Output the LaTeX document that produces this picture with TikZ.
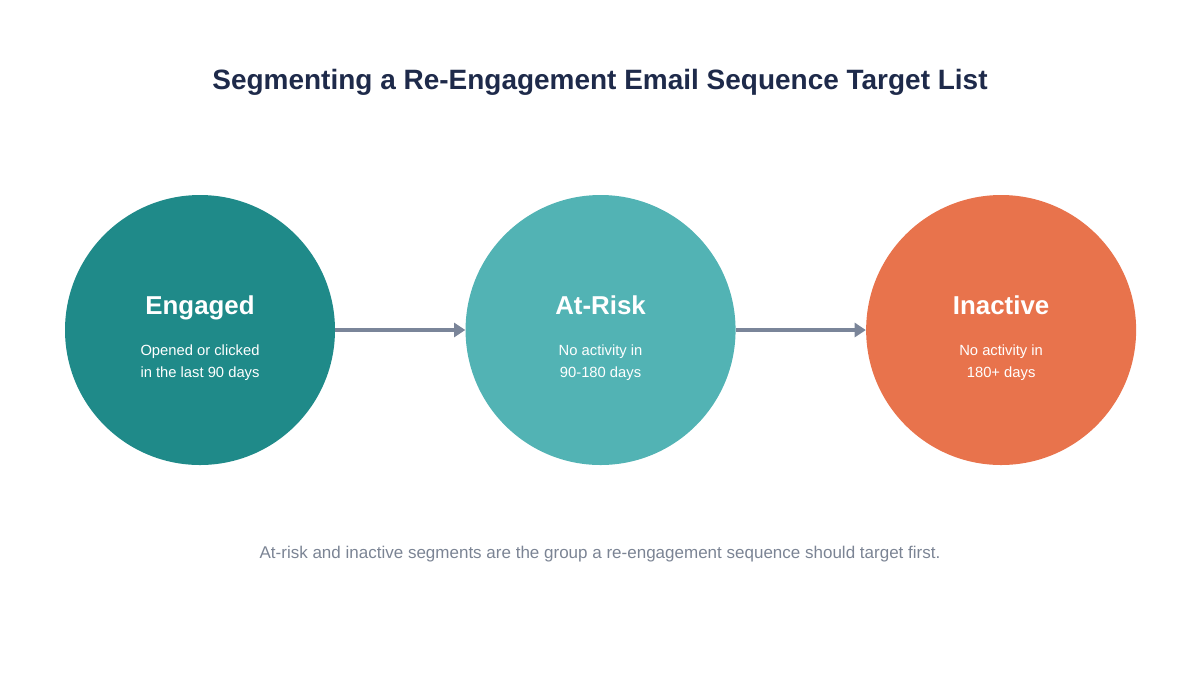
\documentclass[tikz,border=0pt]{standalone}
\usepackage{fontspec}
\setmainfont{Liberation Sans}
\usetikzlibrary{positioning,arrows.meta}
\definecolor{engagedc}{HTML}{1F8A89}
\definecolor{riskc}{HTML}{52B3B4}
\definecolor{inactivec}{HTML}{E8734C}
\definecolor{arrowc}{HTML}{7A8599}
\definecolor{titlec}{HTML}{1E2A4A}
\definecolor{notec}{HTML}{7B8494}
\tikzset{
  segment/.style={circle, minimum size=6.75cm, inner sep=0pt},
  segname/.style={text=white, anchor=base, font=\fontsize{18.4}{22}\selectfont\bfseries},
  segtext/.style={text=white, align=center, font=\fontsize{10.5}{15.6}\selectfont},
  flow/.style={-{Triangle[length=8pt,width=10pt]}, draw=arrowc, line width=2.2pt}
}
\begin{document}
\begin{tikzpicture}[node distance=3.25cm]
    \useasboundingbox (0,0) rectangle (30,-16.875);
    \node[segment, fill=engagedc] (engaged) at (5,-8.25) {};
    \node[segment, fill=riskc, right=of engaged] (risk) {};
    \node[segment, fill=inactivec, right=of risk] (inactive) {};

    \node[segname] at ([yshift=0.38cm]engaged.center) {Engaged};
    \node[segtext] at ([yshift=-0.825cm]engaged.center) {Opened or clicked\\in the last 90 days};
    \node[segname] at ([yshift=0.38cm]risk.center) {At-Risk};
    \node[segtext] at ([yshift=-0.825cm]risk.center) {No activity in\\90-180 days};
    \node[segname] at ([yshift=0.38cm]inactive.center) {Inactive};
    \node[segtext] at ([yshift=-0.825cm]inactive.center) {No activity in\\180+ days};

    \draw[flow] (engaged) -- (risk);
    \draw[flow] (risk) -- (inactive);

    \node[text=titlec, font=\fontsize{19.9}{24}\selectfont\bfseries] (title) at (15,-2.05) {Segmenting a Re-Engagement Email Sequence Target List};
    \node[text=notec, font=\fontsize{12.1}{14}\selectfont] (note) at (15,-13.85) {At-risk and inactive segments are the group a re-engagement sequence should target first.};
\end{tikzpicture}
\end{document}
